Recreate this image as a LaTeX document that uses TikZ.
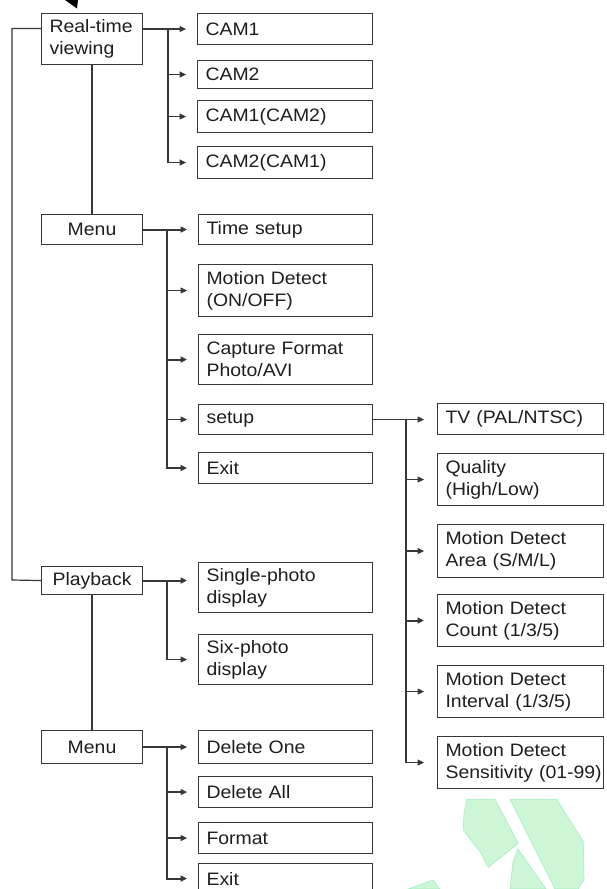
\documentclass[tikz,border=0pt]{standalone}
\usepackage{fontspec}
\setmainfont{Liberation Sans}[FakeStretch=1.08]
\usetikzlibrary{arrows.meta,calc}
\definecolor{linec}{RGB}{55,55,55}
\definecolor{txtc}{RGB}{30,30,30}
\definecolor{wmfill}{RGB}{204,246,214}
\definecolor{wmedge}{RGB}{165,238,195}
\newcommand\mybx[7][]{%
  \pgfmathsetmacro\myW{#5-#3}\pgfmathsetmacro\myH{#6-#4}\pgfmathsetmacro\myT{#5-#3-16}%
  \node[bx,#1,minimum width=\myW pt,minimum height=\myH pt,text width=\myT pt] (#2) at (#3,#4) {#7};}
\begin{document}
\begin{tikzpicture}[x=1pt,y=-1pt,
  bx/.style={draw=linec,line width=1.1pt,rectangle,inner xsep=8pt,inner ysep=0pt,
    align=left,anchor=north west,text=txtc,font=\fontsize{18}{21.7}\selectfont},
  ln/.style={draw=linec,line width=1.2pt},
  arr/.style={ln,-{Triangle[length=6.5pt,width=6pt]},shorten >=11pt},
  arrs/.style={arr,shorten >=13pt},
  thk/.style={line width=2pt},
  wm/.style={fill=wmfill,draw=wmedge,line width=0.6pt}]
\clip (0,0) rectangle (606,889);
\fill[white] (0,0) rectangle (606,889);
% watermark
\path[wm] (466.7,799.3) -- (495,799.3) -- (518.3,843.3) -- (488.3,867.3) -- (480,851.7) -- (463.3,830) -- (464,813.3) -- cycle;
\path[wm] (510,799.3) -- (556.7,799.3) -- (583.3,841.7) -- (584,880) -- (578,889) -- (555,889) -- cycle;
\path[wm] (518,849) -- (546,889) -- (510,889) -- (513,862) -- cycle;
\path[wm] (408,889) -- (433,880) -- (440,889) -- cycle;
% top arrow tip
\fill[black] (65,0) -- (78,0) -- (77,8.5) -- cycle;
% boxes
\mybx{rt}{41}{13}{142}{64}{Real-time\\viewing}
\mybx{cam1}{197}{13}{372}{44}{CAM1}
\mybx{cam2}{197}{60}{372}{88}{CAM2}
\mybx{cam12}{197}{100}{372}{132}{CAM1(CAM2)}
\mybx{cam21}{197}{146}{372}{178}{CAM2(CAM1)}
\mybx[align=center]{menu1}{41}{214}{142}{244}{Menu}
\mybx{time}{198}{214}{372}{244}{Time setup}
\mybx{md}{198}{264}{372}{316}{Motion Detect\\(ON/OFF)}
\mybx{cap}{198}{334}{372}{384}{Capture Format\\Photo/AVI}
\mybx{setup}{198}{404}{372}{434}{setup}
\mybx{exita}{198}{452}{372}{483}{Exit}
\mybx{tv}{437}{403}{603}{434}{TV (PAL/NTSC)}
\mybx{qual}{437}{453}{603}{505}{Quality\\(High/Low)}
\mybx{area}{437}{524}{603}{577}{Motion Detect\\Area (S/M/L)}
\mybx{count}{437}{594}{603}{646}{Motion Detect\\Count (1/3/5)}
\mybx{intv}{437}{665}{603}{717}{Motion Detect\\Interval (1/3/5)}
\mybx{sens}{437}{736}{603}{788}{Motion Detect\\\mbox{Sensitivity (01-99)}}
\mybx[align=center]{play}{41}{566}{142}{594}{Playback}
\mybx{single}{198}{562}{372}{612}{Single-photo\\display}
\mybx{six}{198}{634}{372}{684}{Six-photo\\display}
\mybx[align=center]{menu2}{41}{730}{142}{763}{Menu}
\mybx{delone}{198}{730}{372}{763}{Delete One}
\mybx{delall}{198}{776}{372}{807}{Delete All}
\mybx{format}{198}{822}{372}{853}{Format}
\mybx{exitb}{198}{863}{372}{893}{Exit}
% junctions
\coordinate (lt) at (12,28.5);
\coordinate (lb) at (12,580);
\coordinate (j1) at (168,28.5);
\coordinate (j2) at (167,229);
\coordinate (j3) at (406,418.5);
\coordinate (j4) at (167,580);
\coordinate (j5) at (167,746.5);
% left trunk
\draw[ln] (rt.west |- lt) -- (lt) -- (lb) -- (play.west);
\draw[ln] (rt.south) -- (menu1.north);
\draw[ln] (play.south) -- (menu2.north);
% real-time branch
\draw[arr] (rt.east |- cam1.west) -- (cam1.west);
\draw[arr] (j1) |- (cam2.west);
\draw[arr] (j1) |- (cam12.west);
\draw[arr] (j1) |- (cam21.west);
% menu 1 branch
\draw[arr,thk] (menu1.east) -- (time.west);
\draw[arr] (j2) |- (md.west);
\draw[arr,thk] (j2) |- (cap.west);
\draw[arr] (j2) |- (setup.west);
\draw[arr,thk] (j2) |- (exita.west);
% setup branch
\draw[arrs] (setup.east) -- (setup.east -| tv.west);
\draw[arrs] (j3) |- (qual.west);
\draw[arrs] (j3) |- (area.west);
\draw[arrs,thk] (j3) |- (count.west);
\draw[arrs] (j3) |- (intv.west);
\draw[arrs] (j3) |- (sens.west);
% playback branch
\draw[arr,thk] (play.east) -- (play.east -| single.west);
\draw[arr] (j4) |- (six.west);
% menu 2 branch
\draw[arr] (menu2.east) -- (delone.west);
\draw[arr] (j5) |- (delall.west);
\draw[arr] (j5) |- (format.west);
\draw[arr,thk] (j5) |- (exitb.west);
\end{tikzpicture}
\end{document}
